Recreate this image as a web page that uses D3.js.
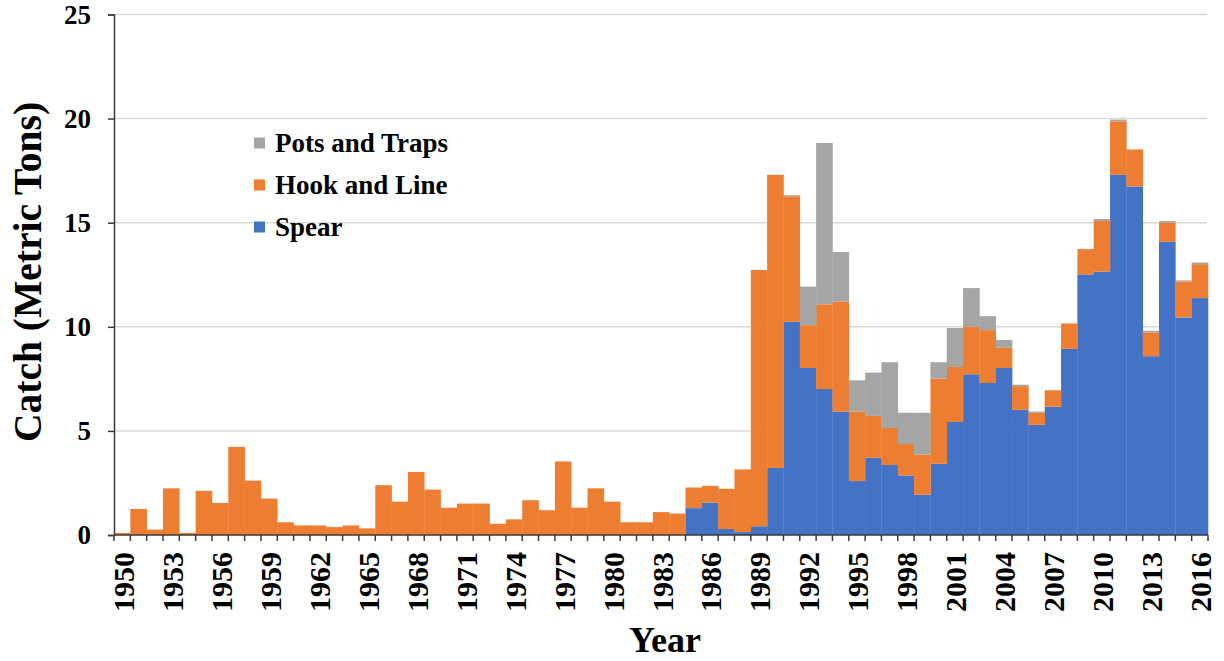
<!DOCTYPE html>
<html>
<head>
<meta charset="utf-8">
<script src="https://cdn.jsdelivr.net/npm/d3@7"></script>
<style>
  html, body { margin: 0; padding: 0; background: #fff; }
  svg { display: block; font-family: "Liberation Serif", "Times New Roman", serif; }
</style>
</head>
<body>
<svg id="chart" width="1224" height="661"></svg>
<script>
const years = d3.range(1950, 2017);

const spear = [
  0,0,0,0,0,0,0,0,0,0,
  0,0,0,0,0,0,0,0,0,0,
  0,0,0,0,0,0,0,0,0,0,
  0,0,0,0,0,
  1.29, 1.56, 0.29, 0.14, 0.42, 3.22, 10.24, 8.02, 7.01, 5.93,
  2.59, 3.71, 3.36, 2.86, 1.93, 3.42, 5.43, 7.72, 7.30, 8.02,
  6.01, 5.29, 6.16, 8.94, 12.52, 12.65, 17.30, 16.74, 8.59, 14.08,
  10.45, 11.38
];

const hookAndLine = [
  0.10, 1.25, 0.26, 2.24, 0.10, 2.12, 1.54, 4.23, 2.61, 1.75,
  0.61, 0.46, 0.46, 0.38, 0.46, 0.32, 2.39, 1.60, 3.03, 2.18,
  1.31, 1.51, 1.51, 0.54, 0.75, 1.67, 1.19, 3.53, 1.31, 2.24,
  1.60, 0.61, 0.61, 1.10, 1.03,
  0.99, 0.80, 1.93, 3.01, 12.31, 14.08, 6.03, 2.06, 4.07, 5.29,
  3.34, 2.01, 1.78, 1.51, 1.93, 4.09, 2.64, 2.28, 2.54, 0.97,
  1.14, 0.58, 0.79, 1.22, 1.21, 2.43, 2.57, 1.78, 1.14, 0.92,
  1.72, 1.63
];

const potsAndTraps = [
  0,0,0,0,0,0,0,0,0,0,
  0,0,0,0,0,0,0,0,0,0,
  0,0,0,0,0,0,0,0,0,0,
  0,0,0,0,0,
  0, 0, 0, 0, 0, 0, 0.05, 1.85, 7.75, 2.37,
  1.50, 2.08, 3.16, 1.50, 2.01, 0.79, 1.87, 1.86, 0.67, 0.38,
  0.07, 0.06, 0, 0, 0, 0.10, 0.08, 0, 0.08, 0.08,
  0.06, 0.08
];

const seriesNames = ["Spear", "Hook and Line", "Pots and Traps"];
const seriesColors = ["#4472C4", "#ED7D31", "#A5A5A5"];
const yTicks = [0, 5, 10, 15, 20, 25];
const xLabelYears = d3.range(1950, 2017, 3);

const table = years.map((yr, i) => ({
  year: yr,
  "Spear": spear[i],
  "Hook and Line": hookAndLine[i],
  "Pots and Traps": potsAndTraps[i]
}));

const svg = d3.select("#chart");
const mLeft = 114, mRight = 1208, mTop = 14.5, mBottom = 535;

const x = d3.scaleBand().domain(years).range([mLeft, mRight]).padding(0);
const y = d3.scaleLinear().domain([0, 25]).range([mBottom, mTop]);

// gridlines
svg.append("g").selectAll("line").data(yTicks.filter(d => d > 0)).join("line")
  .attr("x1", mLeft).attr("x2", mRight - 1)
  .attr("y1", d => y(d)).attr("y2", d => y(d))
  .attr("stroke", "#d9d9d9").attr("stroke-width", 1.5);

// stacked bars
const stack = d3.stack().keys(seriesNames)(table);
const color = d3.scaleOrdinal().domain(seriesNames).range(seriesColors);

svg.append("g").selectAll("g").data(stack).join("g")
  .attr("fill", d => color(d.key))
  .selectAll("rect").data(d => d).join("rect")
  .attr("x", d => x(d.data.year))
  .attr("width", x.bandwidth() + 0.3)
  .attr("y", d => y(d[1]))
  .attr("height", d => Math.max(0, y(d[0]) - y(d[1])));

// y axis
const yAxis = d3.axisLeft(y).tickValues(yTicks).tickSize(6).tickPadding(17).tickFormat(d3.format("d"));
const gy = svg.append("g").attr("transform", `translate(${mLeft},0)`).call(yAxis);
gy.select(".domain").attr("stroke", "#3a3a3a").attr("stroke-width", 1.5);
gy.selectAll(".tick line").attr("stroke", "#3a3a3a").attr("stroke-width", 1.5);
gy.selectAll(".tick text")
  .attr("font-family", "Liberation Serif, Times New Roman, serif")
  .attr("font-weight", "bold").attr("font-size", 27).attr("fill", "#000");

// x axis: ticks between categories
const boundaries = years.map(yr => x(yr)).concat([mRight]);
const gx = svg.append("g");
gx.append("line").attr("x1", mLeft).attr("x2", mRight).attr("y1", mBottom).attr("y2", mBottom)
  .attr("stroke", "#3a3a3a").attr("stroke-width", 1.5);
gx.selectAll("line.t").data(boundaries).join("line").attr("class", "t")
  .attr("x1", d => d).attr("x2", d => d).attr("y1", mBottom).attr("y2", mBottom + 6)
  .attr("stroke", "#3a3a3a").attr("stroke-width", 1.5);
gx.selectAll("text").data(xLabelYears).join("text")
  .attr("transform", d => `translate(${x(d) + x.bandwidth() / 2 + 1},${mBottom + 17}) rotate(-90)`)
  .attr("text-anchor", "end").attr("dy", "0.35em")
  .attr("font-weight", "bold").attr("font-size", 30).attr("fill", "#000")
  .text(d => d);

// axis titles
svg.append("text")
  .attr("transform", `translate(41,272) rotate(-90)`)
  .attr("text-anchor", "middle")
  .attr("font-weight", "bold").attr("font-size", 39.5).attr("fill", "#000")
  .text("Catch (Metric Tons)");
svg.append("text")
  .attr("x", 665).attr("y", 652)
  .attr("text-anchor", "middle")
  .attr("font-weight", "bold").attr("font-size", 36).attr("fill", "#000")
  .text("Year");

// legend
const legendOrder = ["Pots and Traps", "Hook and Line", "Spear"];
const lg = svg.append("g").selectAll("g").data(legendOrder).join("g")
  .attr("transform", (d, i) => `translate(254,${143 + i * 42})`);
lg.append("rect").attr("x", 0).attr("y", -5.5).attr("width", 11).attr("height", 11)
  .attr("fill", d => color(d));
lg.append("text").attr("x", 21).attr("dy", "0.35em")
  .attr("font-weight", "bold").attr("font-size", 27).attr("fill", "#000")
  .text(d => d);
</script>
</body>
</html>
